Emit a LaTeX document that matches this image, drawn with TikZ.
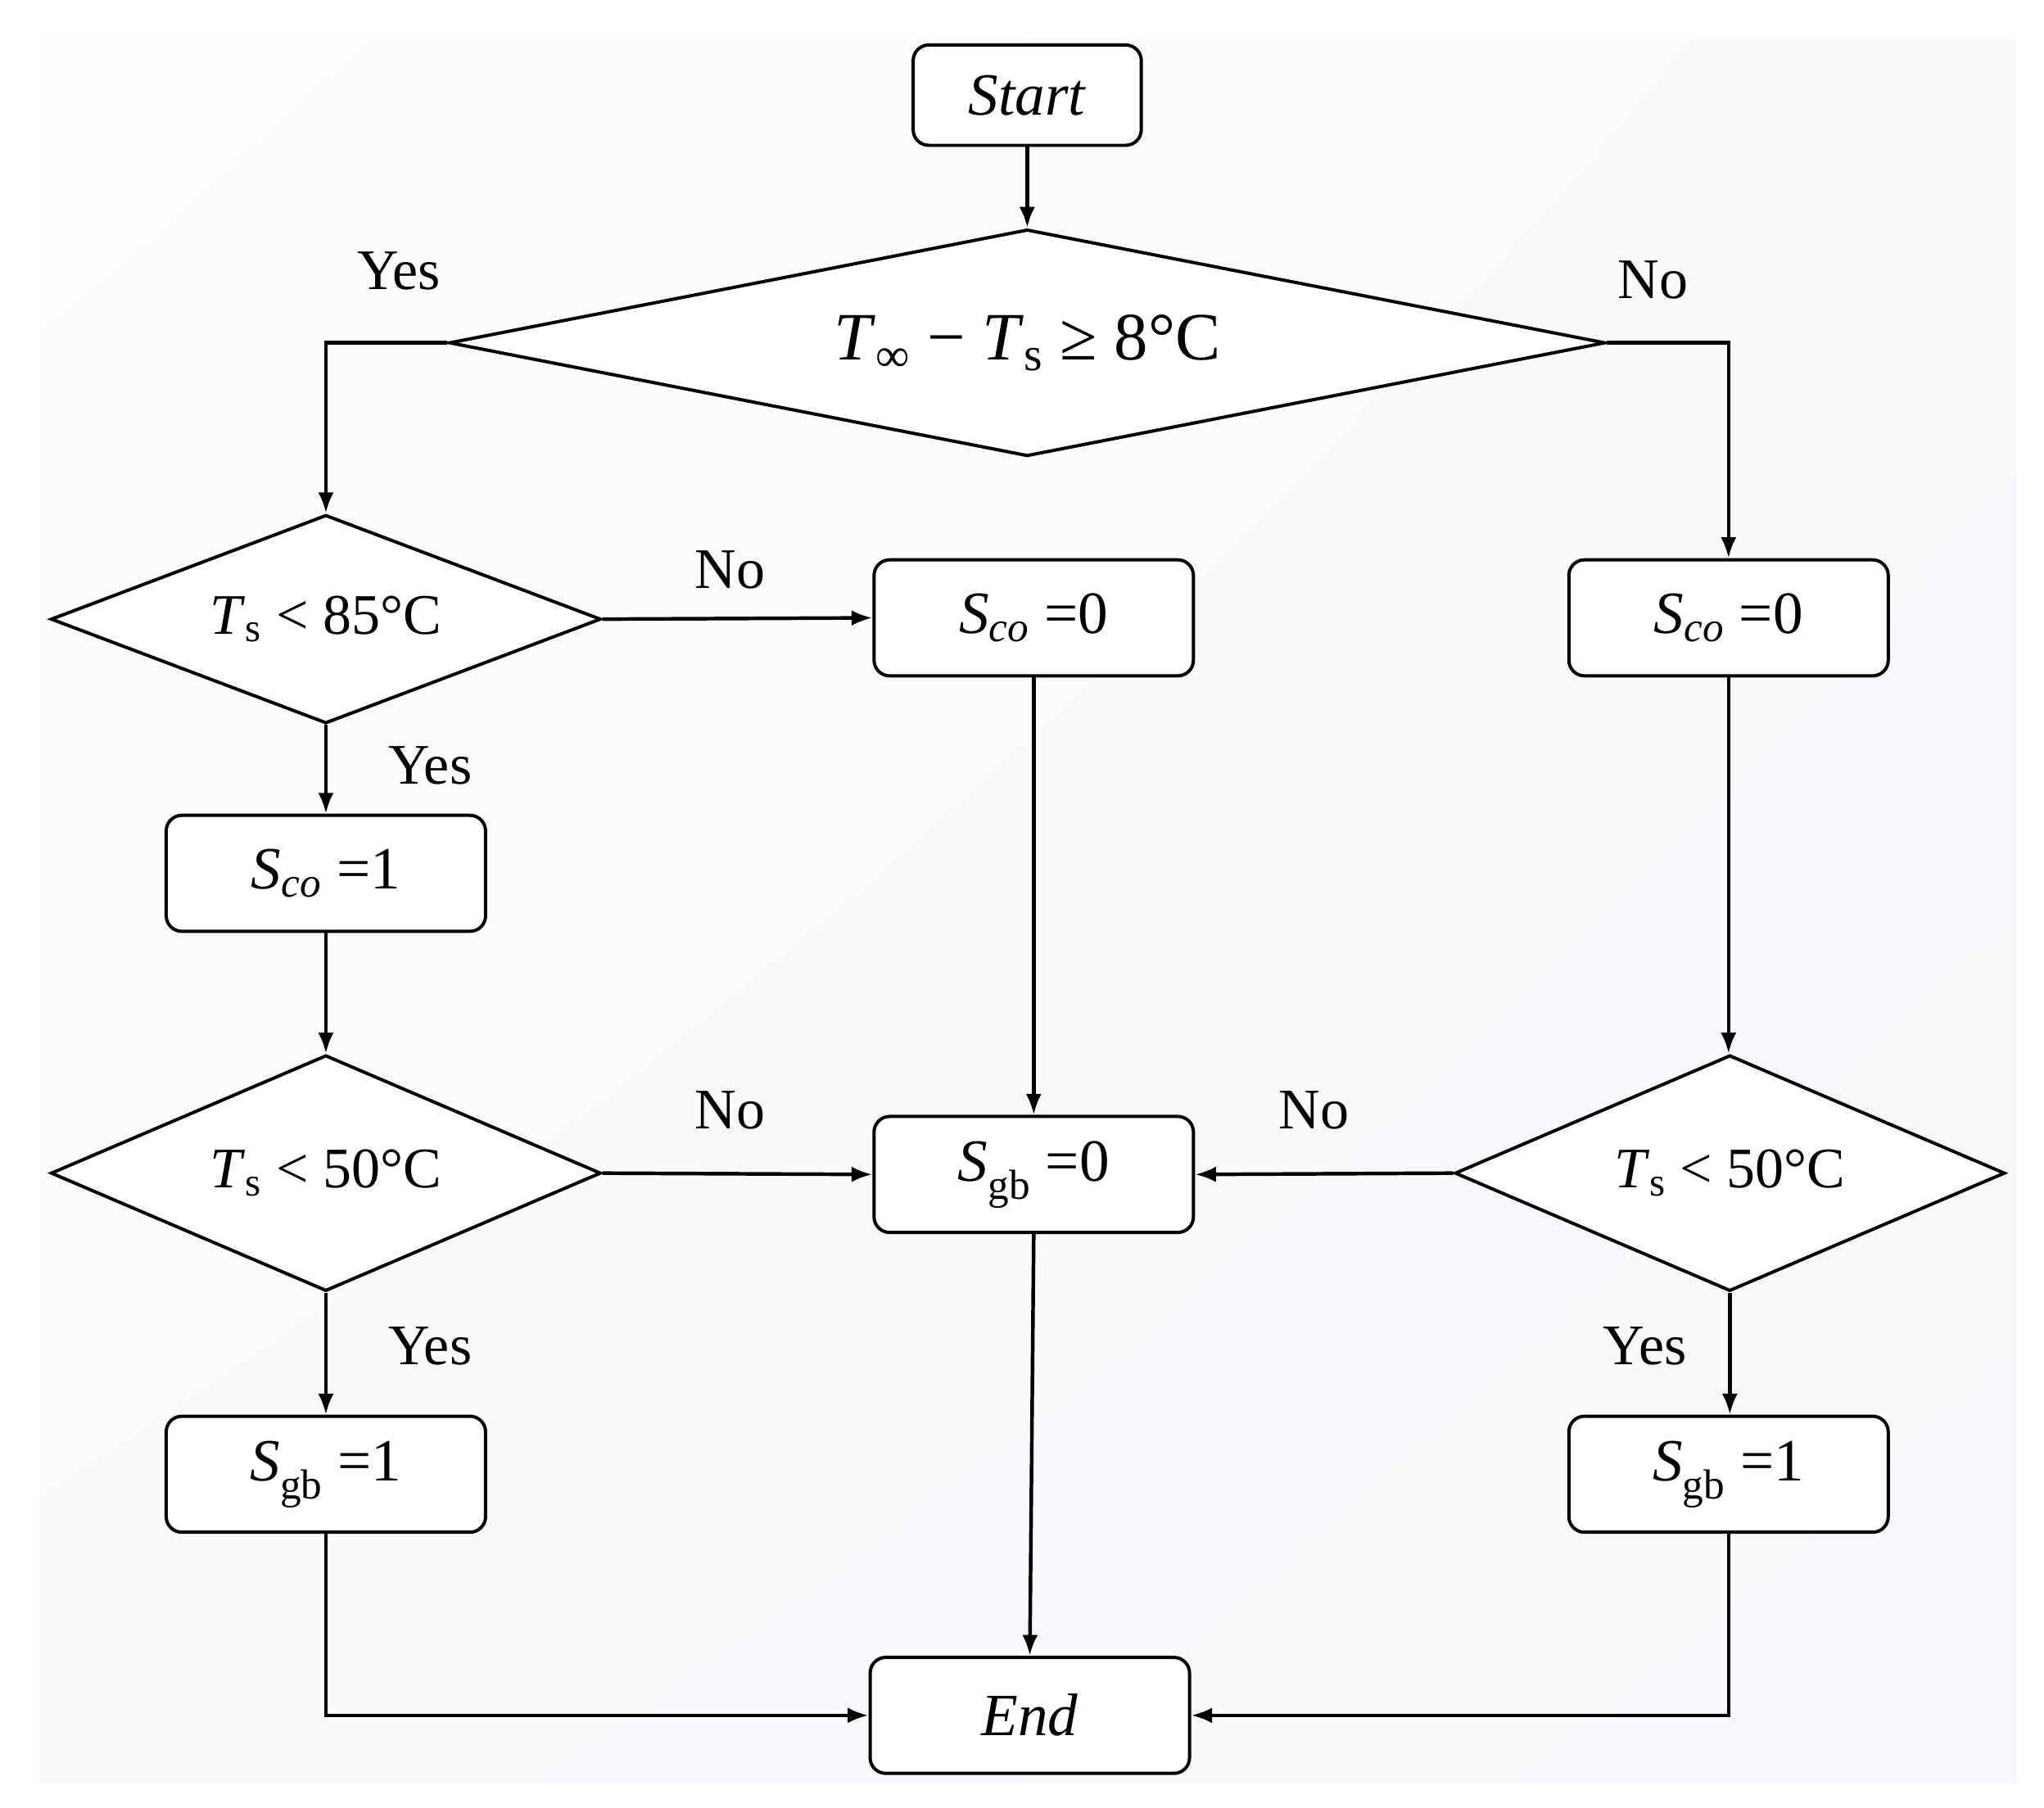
\documentclass[tikz,border=0pt]{standalone}
\usepackage{fontspec}
\setmainfont{Liberation Serif}
\usetikzlibrary{shapes.geometric,arrows.meta,shadings}
\definecolor{bgA}{RGB}{253,253,253}
\definecolor{bgM}{RGB}{249,250,252}
\definecolor{bgB}{RGB}{246,248,251}
\newcommand\sbs[1]{\textsubscript{#1}}
\begin{document}
\begin{tikzpicture}[x=1pt,y=-1pt,
  box/.style={draw,line width=2.5pt,rounded corners=12pt,fill=white,inner sep=0pt,
    font=\fontsize{46}{50}\selectfont},
  dia/.style={draw,diamond,line width=2.5pt,fill=white,inner sep=0pt,
    font=\fontsize{44}{50}\selectfont},
  lbl/.style={font=\fontsize{44}{50}\selectfont,inner sep=0pt},
  arr/.style={line width=2.8pt,-{Latex[length=16pt,width=12pt]}}]
\useasboundingbox (0,0) rectangle (1568,1387);
\shade[upper left=bgA,upper right=bgM,lower left=bgM,lower right=bgB] (30,30) rectangle (1547,1368);
% nodes
\node[box,minimum width=175pt,minimum height=77pt] (start) at (788,73) {\textit{Start}};
\node[dia,aspect=5.1,minimum width=887pt,minimum height=174pt,font=\fontsize{52}{56}\selectfont] (d1) at (788,263)
  {\textit{T}\sbs{∞} − \textit{T}\sbs{s} ≥ 8°C};
\node[dia,aspect=2.64,minimum width=422pt,minimum height=160pt] (d2) at (250,475) {\textit{T}\sbs{s} < 85°C};
\node[box,minimum width=245pt,minimum height=89pt] (m0) at (793,474) {\textit{S}\sbs{\textit{co}} =0};
\node[box,minimum width=245pt,minimum height=89pt] (r0) at (1326,474) {\textit{S}\sbs{\textit{co}} =0};
\node[box,minimum width=245pt,minimum height=89pt] (l1) at (250,670) {\textit{S}\sbs{\textit{co}} =1};
\node[dia,aspect=2.33,minimum width=422pt,minimum height=181pt] (d3) at (250,900) {\textit{T}\sbs{s} < 50°C};
\node[box,minimum width=245pt,minimum height=89pt] (g0) at (793,901) {\textit{S}\sbs{gb} =0};
\node[dia,aspect=2.33,minimum width=422pt,minimum height=181pt] (d4) at (1327,900) {\textit{T}\sbs{s} < 50°C};
\node[box,minimum width=245pt,minimum height=89pt] (lg1) at (250,1131) {\textit{S}\sbs{gb} =1};
\node[box,minimum width=245pt,minimum height=89pt] (rg1) at (1326,1131) {\textit{S}\sbs{gb} =1};
\node[box,minimum width=245pt,minimum height=89pt] (end) at (790,1316) {\textit{End}};
% labels
\node[lbl] (y1) at (306,208) {Yes};
\node[lbl] (n1) at (1268,215) {No};
\node[lbl] (n2) at (560,437) {No};
\node[lbl] (y2) at (330,587) {Yes};
\node[lbl] (n3) at (560,852) {No};
\node[lbl] (n4) at (1008,852) {No};
\node[lbl] (y3) at (330,1033) {Yes};
\node[lbl] (y4) at (1262,1033) {Yes};
% connectors
\draw[arr] (start) -- (d1);
\draw[arr] (d1.west) -| (d2.north);
\draw[arr] (d1.east) -| (r0.north);
\draw[arr] (d2.east) -- (m0.west);
\draw[arr] (d2.south) -- (l1.north);
\draw[arr] (l1.south) -- (d3.north);
\draw[arr] (d3.east) -- (g0.west);
\draw[arr] (d3.south) -- (lg1.north);
\draw[arr] (m0.south) -- (g0.north);
\draw[arr] (r0.south) -- (r0.south |- d4.north);
\draw[arr] (d4.west) -- (g0.east);
\draw[arr] (d4.south) -- (d4.south |- rg1.north);
\draw[arr] (g0.south) -- (end.north);
\draw[arr] (lg1.south) |- (end.west);
\draw[arr] (rg1.south) |- (end.east);
\end{tikzpicture}
\end{document}
